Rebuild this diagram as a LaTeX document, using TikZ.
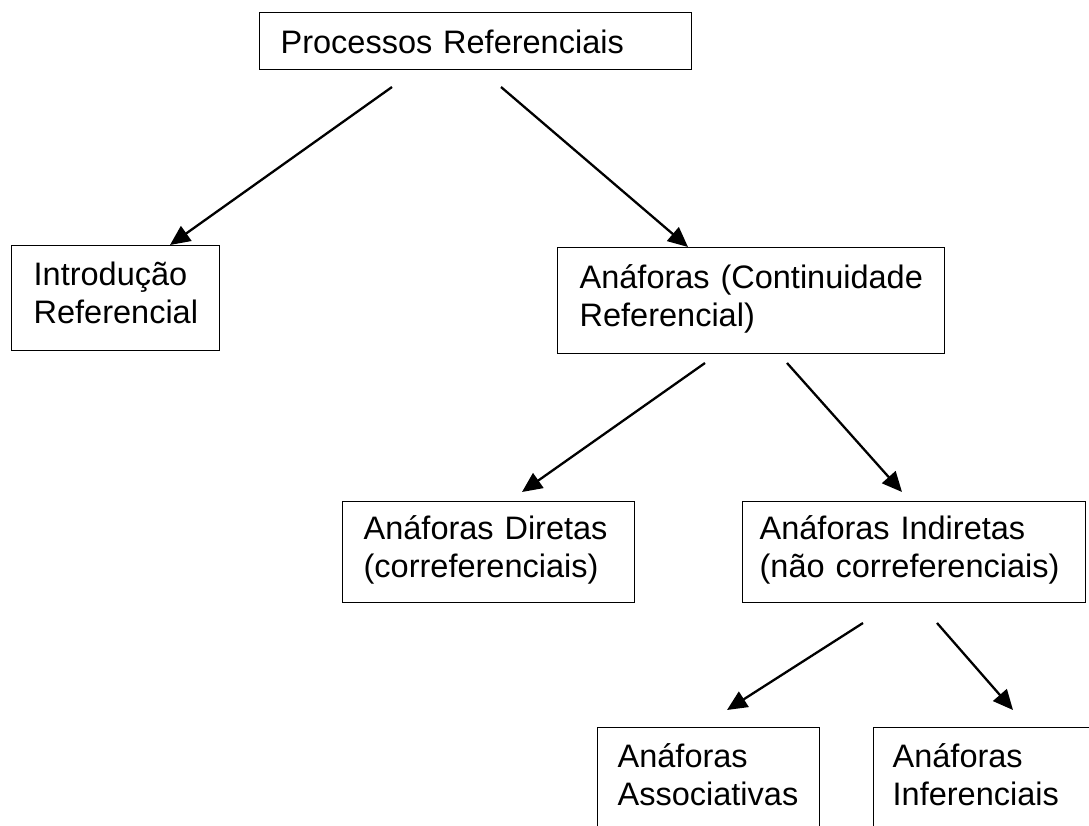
\documentclass[tikz,border=0pt]{standalone}
\usepackage{fontspec}
\setmainfont{Liberation Sans}
\usetikzlibrary{arrows.meta}
% two-line box text with fixed struts so every box sets its lines alike;
% each line is kept whole in an \mbox
\newcommand{\twolines}[2]{\rule{0pt}{28pt}\mbox{#1}\\\mbox{#2}\rule[-15pt]{0pt}{15pt}}
\newcommand{\oneline}[1]{\rule{0pt}{35pt}\mbox{#1}\rule[-10pt]{0pt}{10pt}}
\hbadness=10000 \hfuzz=100pt

\begin{document}
\begin{tikzpicture}[x=1pt,y=-1pt,
  box/.style={draw=black, line width=1.3pt, rectangle, anchor=north west,
    inner ysep=0pt, align=left, font=\fontsize{32.5}{38}\selectfont},
  arr/.style={draw=black, line width=2.3pt, -{Triangle[length=20pt,width=18pt]}}]
  \useasboundingbox (0,0) rectangle (1089,826);

  % boxes
  \node[box, inner xsep=21pt, text width=390pt, minimum height=57pt]
    (proc) at (259,12) {\oneline{Processos Referenciais}};
  \node[box, inner xsep=22pt, text width=164pt, minimum height=105pt]
    (intro) at (11,245) {\twolines{Introdução}{Referencial}};
  \node[box, inner xsep=22pt, text width=343pt, minimum height=106pt]
    (anaf) at (557,247) {\twolines{Anáforas (Continuidade}{Referencial)}};
  \node[box, inner xsep=21pt, text width=250pt, minimum height=101pt]
    (dir) at (342,501) {\twolines{Anáforas Diretas}{(correferenciais)}};
  \node[box, inner xsep=17pt, text width=309pt, minimum height=101pt]
    (ind) at (742,501) {\twolines{Anáforas Indiretas}{(não correferenciais)}};
  \node[box, inner xsep=20pt, text width=182pt, minimum height=105pt]
    (assoc) at (597,727) {\twolines{Anáforas}{Associativas}};
  \node[box, inner xsep=19pt, text width=181pt, minimum height=105pt]
    (infer) at (873,727) {\twolines{Anáforas}{Inferenciais}};

  % free ends of the connectors
  \coordinate (p1) at (392,87);
  \coordinate (p2) at (501,87);
  \coordinate (a1) at (705,363);
  \coordinate (a2) at (787,363);
  \coordinate (d1) at (522,492);
  \coordinate (d2) at (902,492);
  \coordinate (i1) at (863,623);
  \coordinate (i2) at (937,623);
  \coordinate (e1) at (727,710);
  \coordinate (e2) at (1013,710);

  % connectors
  \draw[arr] (p1) -- ([xshift=159pt]intro.north west);
  \draw[arr] (p2) -- ([xshift=131pt]anaf.north west);
  \draw[arr] (a1) -- (d1);
  \draw[arr] (a2) -- (d2);
  \draw[arr] (i1) -- (e1);
  \draw[arr] (i2) -- (e2);
\end{tikzpicture}
\end{document}
